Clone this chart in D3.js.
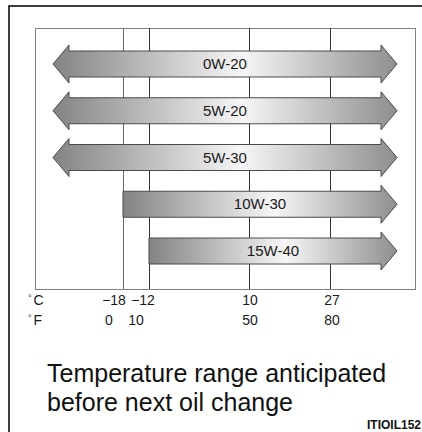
<!DOCTYPE html>
<html>
<head>
<meta charset="utf-8">
<script src="https://cdnjs.cloudflare.com/ajax/libs/d3/7.8.5/d3.min.js"></script>
<style>
  body { margin: 0; background: #fff; }
  svg { display: block; font-family: "Liberation Sans", Arial, sans-serif; }
</style>
</head>
<body>
<svg width="422" height="432"></svg>
<script>
// Data
var oils = ["0W-20", "5W-20", "5W-30", "10W-30", "15W-40"];
var oilMinC = [null, null, null, -18, -12]; // null = good at any low temperature
var ticksC = [-18, -12, 10, 27];
var ticksF = [0, 10, 50, 80];
var labelsC = ["\u221218", "\u221212", "10", "27"];
var labelsF = ["0", "10", "50", "80"];

// Setup stuff
var svg = d3.select("svg"),
    box = {left: 35, right: 415, top: 28, bottom: 289};

// temperature scale is not linear in the picture, so use a polylinear one
var x = d3.scaleLinear()
    .domain(ticksC)
    .range([123, 149, 249, 330]);

var y = d3.scalePoint()
    .domain(oils)
    .range([box.top + 36, box.bottom - 38]);

var tipLeft = box.left + 18,
    tipRight = box.right - 18,
    shaft = 13,   // half height of shaft
    head = 19,    // half height of head
    headLen = 16;

// outer frame
svg.append("path")
    .attr("d", "M9,432V6H422")
    .attr("fill", "none")
    .attr("stroke", "#000")
    .attr("stroke-width", 1.5);

// inner box
svg.append("rect")
    .attr("x", box.left + 0.5)
    .attr("y", box.top + 0.5)
    .attr("width", box.right - box.left)
    .attr("height", box.bottom - box.top)
    .attr("fill", "none")
    .attr("stroke", "#808080")
    .attr("stroke-width", 1);

// grid lines
svg.selectAll(".grid")
    .data(ticksC)
    .enter().append("line")
    .attr("class", "grid")
    .attr("x1", function(d) { return Math.round(x(d)) + 0.5; })
    .attr("x2", function(d) { return Math.round(x(d)) + 0.5; })
    .attr("y1", box.top)
    .attr("y2", box.bottom)
    .attr("stroke", function(d, i) { return i == 0 ? "#666" : "#333"; })
    .attr("stroke-width", 1);

// arrows
var arrows = oils.map(function(name, i) {
    var open = oilMinC[i] === null;
    return {
        name: name,
        open: open,
        x0: open ? tipLeft : Math.round(x(oilMinC[i])),
        x1: tipRight,
        cy: y(name)
    };
});

var defs = svg.append("defs");
var grad = defs.selectAll("linearGradient")
    .data(arrows)
    .enter().append("linearGradient")
    .attr("id", function(d, i) { return "g" + i; })
    .attr("gradientUnits", "userSpaceOnUse")
    .attr("x1", function(d) { return d.x0; })
    .attr("x2", function(d) { return d.x1; })
    .attr("y1", 0).attr("y2", 0);
grad.append("stop").attr("offset", "0%").attr("stop-color", "#838383");
grad.append("stop").attr("offset", "55%").attr("stop-color", "#f6f6f6");
grad.append("stop").attr("offset", "100%").attr("stop-color", "#8e8e8e");

function arrowPath(d) {
    var c = d.cy, hb = d.x1 - headLen;
    var p = [];
    if (d.open) {
        var lb = d.x0 + headLen;
        p.push([d.x0, c], [lb, c - head], [lb, c - shaft]);
    } else {
        p.push([d.x0, c - shaft]);
    }
    p.push([hb, c - shaft], [hb, c - head], [d.x1, c], [hb, c + head], [hb, c + shaft]);
    if (d.open) {
        p.push([d.x0 + headLen, c + shaft], [d.x0 + headLen, c + head]);
    } else {
        p.push([d.x0, c + shaft]);
    }
    return "M" + p.join("L") + "Z";
}

svg.selectAll(".arrow")
    .data(arrows)
    .enter().append("path")
    .attr("class", "arrow")
    .attr("d", arrowPath)
    .attr("fill", function(d, i) { return "url(#g" + i + ")"; })
    .attr("stroke", "#4a4a4a")
    .attr("stroke-width", 1)
    .attr("stroke-linejoin", "miter");

svg.selectAll(".oil")
    .data(arrows)
    .enter().append("text")
    .attr("class", "oil")
    .attr("x", function(d) { return (d.x0 + d.x1) / 2; })
    .attr("y", function(d) { return d.cy + 5; })
    .attr("text-anchor", "middle")
    .attr("font-size", 15)
    .attr("fill", "#1a1a1a")
    .text(function(d) { return d.name; });

// axis labels (left two are crowded, so nudged)
var shiftC = [-9, -6, 1, 2],
    shiftF = [-14, -13, 1, 2];

function unit(txt, yy) {
    var t = svg.append("text")
        .attr("x", 28)
        .attr("y", yy)
        .attr("font-size", 14)
        .attr("fill", "#1a1a1a");
    t.append("tspan").attr("font-size", 9).attr("dy", -4).text("\u00b0");
    t.append("tspan").attr("dy", 4).attr("dx", 2).text(txt);
}
unit("C", 305);
unit("F", 325);

svg.selectAll(".lblC")
    .data(labelsC)
    .enter().append("text")
    .attr("class", "lblC")
    .attr("x", function(d, i) { return x(ticksC[i]) + shiftC[i]; })
    .attr("y", 305)
    .attr("text-anchor", "middle")
    .attr("font-size", 14)
    .attr("fill", "#1a1a1a")
    .text(function(d) { return d; });

svg.selectAll(".lblF")
    .data(labelsF)
    .enter().append("text")
    .attr("class", "lblF")
    .attr("x", function(d, i) { return x(ticksC[i]) + shiftF[i]; })
    .attr("y", 325)
    .attr("text-anchor", "middle")
    .attr("font-size", 14)
    .attr("fill", "#1a1a1a")
    .text(function(d) { return d; });

// caption
svg.append("text")
    .attr("x", 47)
    .attr("y", 382)
    .attr("font-size", 25)
    .attr("fill", "#111")
    .text("Temperature range anticipated");
svg.append("text")
    .attr("x", 47)
    .attr("y", 411)
    .attr("font-size", 25)
    .attr("fill", "#111")
    .text("before next oil change");

// figure code, runs off the right edge like the scan
svg.append("text")
    .attr("x", 367)
    .attr("y", 429)
    .attr("font-size", 12)
    .attr("font-weight", "bold")
    .attr("fill", "#111")
    .text("ITIOIL152");
</script>
</body>
</html>
